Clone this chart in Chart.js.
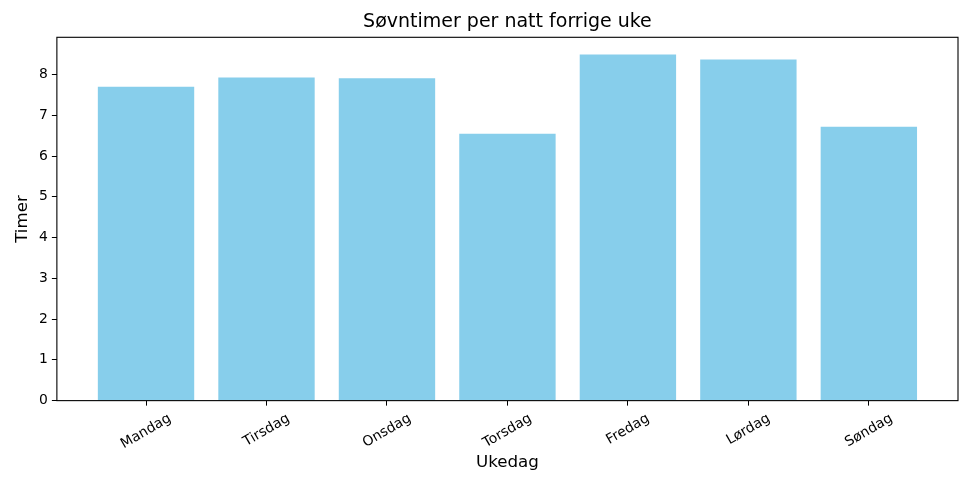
<!DOCTYPE html>
<html>
<head>
<meta charset="utf-8">
<script src="https://cdn.jsdelivr.net/npm/chart.js@4"></script>
<style>
  html, body { margin: 0; padding: 0; background: #fff; }
  #wrap { width: 973px; height: 487px; }
</style>
</head>
<body>
<div id="wrap"><canvas id="sleepChart" width="973" height="487"></canvas></div>
<script>
// data
const days = ["Mandag", "Tirsdag", "Onsdag", "Torsdag", "Fredag", "Lørdag", "Søndag"];
const hours = [7.7, 7.93, 7.91, 6.55, 8.49, 8.37, 6.72];
const yTicks = [0, 1, 2, 3, 4, 5, 6, 7, 8];

const FONT = "DejaVu Sans";
const TICK_SIZE = 13.9;

// matplotlib-like limits: bars 0.8 wide, 5% margins
const xMin = -0.4 - 0.05 * (days.length - 1 + 0.8);
const xMax = days.length - 1 + 0.4 + 0.05 * (days.length - 1 + 0.8);
const yMax = Math.max(...hours) * 1.05;

function keepOnly(values) {
  return (axis) => {
    axis.ticks = axis.ticks.filter((t) =>
      values.some((v) => Math.abs(v - t.value) < 1e-6)
    );
  };
}

// axes frame + centred rotated day labels
const framePlugin = {
  id: "frame",
  afterDraw(chart) {
    const { ctx, chartArea: a } = chart;
    ctx.save();
    ctx.strokeStyle = "#000";
    ctx.lineWidth = 1.1;
    ctx.strokeRect(a.left, a.top, a.right - a.left, a.bottom - a.top);

    const xs = chart.scales.x;
    ctx.font = TICK_SIZE + "px '" + FONT + "'";
    ctx.fillStyle = "#000";
    ctx.textAlign = "center";
    ctx.textBaseline = "middle";
    const ang = (30 * Math.PI) / 180;
    const h = 16;
    xs.ticks.forEach((t) => {
      const label = days[Math.round(t.value)];
      const w = ctx.measureText(label).width;
      const bh = w * Math.sin(ang) + h * Math.cos(ang);
      const px = xs.getPixelForValue(t.value);
      const top = a.bottom + 10;
      ctx.save();
      ctx.translate(px, top + bh / 2);
      ctx.rotate(-ang);
      ctx.fillText(label, 0, 0);
      ctx.restore();
    });
    ctx.restore();
  },
};

new Chart(document.getElementById("sleepChart"), {
  type: "bar",
  data: {
    datasets: [
      {
        data: hours.map((v, i) => ({ x: i, y: v })),
        backgroundColor: "#87CEEB",
        borderWidth: 0,
        barPercentage: 0.8,
        categoryPercentage: 1.0,
      },
    ],
  },
  options: {
    responsive: false,
    animation: false,
    layout: { padding: { left: 5, right: 15, top: 0, bottom: 0 } },
    plugins: {
      legend: { display: false },
      tooltip: { enabled: false },
      title: {
        display: true,
        text: "Søvntimer per natt forrige uke",
        fullSize: false,
        color: "#000",
        font: { family: FONT, size: 19, weight: "normal" },
        padding: { top: 11, bottom: 3.5 },
      },
    },
    scales: {
      x: {
        type: "linear",
        offset: false,
        min: xMin,
        max: xMax,
        afterBuildTicks: keepOnly(days.map((d, i) => i)),
        grid: {
          display: true,
          offset: false,
          drawOnChartArea: false,
          drawTicks: true,
          tickLength: 5,
          color: "#000",
        },
        border: { display: false },
        ticks: {
          autoSkip: false,
          minRotation: 30,
          maxRotation: 30,
          padding: 2.5,
          color: "rgba(0,0,0,0)",
          font: { family: FONT, size: TICK_SIZE },
          callback: (v) => days[Math.round(v)] ?? "",
        },
        title: {
          display: true,
          text: "Ukedag",
          color: "#000",
          font: { family: FONT, size: 16.7, lineHeight: 1.15 },
          padding: { top: 0, bottom: 15 },
        },
      },
      y: {
        min: 0,
        max: yMax,
        afterBuildTicks: keepOnly(yTicks),
        grid: {
          display: true,
          drawOnChartArea: false,
          drawTicks: true,
          tickLength: 5,
          color: "#000",
        },
        border: { display: false },
        ticks: {
          stepSize: 1,
          padding: 4,
          color: "#000",
          font: { family: FONT, size: TICK_SIZE },
        },
        title: {
          display: true,
          text: "Timer",
          color: "#000",
          font: { family: FONT, size: 16.7 },
          padding: { top: 8, bottom: 2 },
        },
      },
    },
  },
  plugins: [framePlugin],
});
</script>
</body>
</html>
